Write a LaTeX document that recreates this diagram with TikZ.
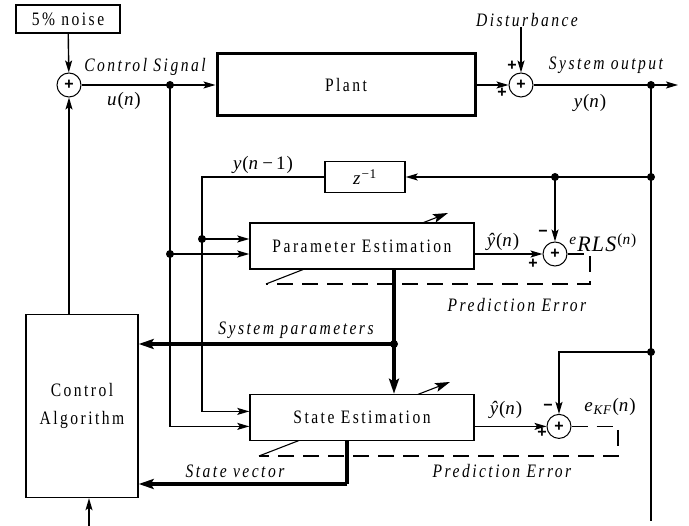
\documentclass[tikz,border=0pt]{standalone}
\usepackage{fontspec}
\setmainfont{Liberation Serif}[LetterSpace=13, FakeStretch=0.82]
\newfontfamily\sigfont{Liberation Serif}[LetterSpace=5]
\newfontfamily\signfont{Liberation Sans}
\usetikzlibrary{arrows.meta,positioning,calc}

\begin{document}
\begin{tikzpicture}[x=1pt, y=-1pt, line width=1.4pt,
  >={Stealth[length=12pt,width=7pt,inset=2.5pt]},
  font=\fontsize{19}{21}\selectfont,
  block/.style={draw, fill=white, inner sep=0pt, align=center},
  sumnode/.style={draw, circle, fill=white, inner sep=0pt, minimum size=24pt, line width=1pt, font=\signfont\fontsize{16}{16}\selectfont\bfseries},
  lab/.style={font=\fontsize{19}{21}\selectfont\itshape, inner sep=0pt},
  sig/.style={font=\sigfont\fontsize{19}{21}\selectfont, inner sep=0pt},
  sgn/.style={font=\signfont\fontsize{16}{16}\selectfont\bfseries, inner sep=0pt},
  dot/.style={circle, fill, inner sep=0pt, minimum size=8pt},
  thickline/.style={line width=4.5pt},
  bigtip/.style={-{Stealth[length=15pt,width=10pt,inset=3pt]}},
  adjust/.style={-{Stealth[length=15pt,width=9pt,inset=3pt]}, line width=1.1pt},
  fbline/.style={dashed, dash pattern=on 16pt off 9pt}
]
\useasboundingbox (0,0) rectangle (689,526);

% adjustment arrows behind the estimator blocks
\draw[adjust] (266,284) -- (448,213);
\draw[adjust] (259,456) -- (450,382);

\node[block, minimum width=104pt, minimum height=28pt] (noise) at (68,19) {5\% noise};
\node[sumnode] (sumu) at (69,85) {+};
\node[block, line width=3pt, minimum width=258pt, minimum height=62pt] (plant) at (346,85) {Plant};
\node[sumnode] (sumy) at (521,85) {+};
\node[lab] (dist) at (527,20) {Disturbance};
\node[block, minimum width=80pt, minimum height=31pt] (zinv) at (365,177) {\sigfont\textit{z}\textsuperscript{−1}};
\node[block, minimum width=224pt, minimum height=46pt] (param) at (362,246) {Parameter Estimation};
\node[block, minimum width=224pt, minimum height=46pt, below=124pt of param] (state) {State Estimation};
\node[block, minimum width=112pt, minimum height=183pt, font=\fontsize{19}{28}\selectfont] (ctrl) at (82,406) {Control\\Algorithm};

\coordinate (pin1) at ($(param.west)+(0,-7)$);
\coordinate (pin2) at ($(param.west)+(0,8)$);
\coordinate (pout) at ($(param.east)+(0,8)$);
\coordinate (sin1) at ($(state.west)+(0,-6)$);
\coordinate (sin2) at ($(state.west)+(0,9)$);
\coordinate (sout) at ($(state.east)+(0,9)$);
\coordinate (uj) at (170,85);
\coordinate (yj) at (651,85);
\coordinate (yout) at (678,85);
\coordinate (yend) at (651,521);
\coordinate (yz) at (651,177);
\coordinate (yr) at (555,177);
\coordinate (yk) at (651,352);
\coordinate (ylag) at (202,177);
\coordinate (dp) at (ylag |- pin1);
\coordinate (du) at (uj |- pin2);
\coordinate (rlsc) at (590,284);
\coordinate (kfc) at (618,456);
\coordinate (pj) at (394,344);
\coordinate (sv) at (347,484);
\coordinate (cin) at (89,526);

\node[sumnode] (sumrls) at (yr |- pout) {+};
\node[sumnode] (sumkf) at (559,0 |- sout) {+};

\draw[->] (noise) -- (sumu);
\draw[->] (sumu |- ctrl.north) -- (sumu);
\draw[->] (sumu) -- (plant);
\draw[->] (plant) -- (sumy);
\draw[->] (dist.south -| sumy) -- (sumy);
\draw[->] (sumy) -- (yout);
\draw (yj) -- (yend);
\draw[->] (yz) -- (zinv);
\draw[->] (yr) -- (sumrls);
\draw[->] (zinv.west) -- (ylag) |- (sin1);
\draw[->] (dp) -- (pin1);
\draw[->] (uj) |- (sin2);
\draw[->] (du) -- (pin2);
\draw[->] (pout) -- (sumrls);
\draw[->] (sout) -- (sumkf);
\draw[->] (yk) -| (sumkf);
\draw[fbline] (sumrls.east) -| (rlsc) -- (266,284);
\draw[fbline] (sumkf.east) -| (kfc) -- (259,456);
\draw[thickline, bigtip] (param.south -| pj) -- (state.north -| pj);
\draw[thickline, bigtip] (pj) -- (pj -| ctrl.east);
\draw[thickline] (state.south -| sv) -- (sv);
\draw[line width=3.5pt, bigtip] (sv) -- (sv -| ctrl.east);
\draw[->] (cin) -- (cin |- ctrl.south);

\foreach \p in {uj,yj,yz,yr,yk,dp,du,pj}
  \node[dot] at (\p) {};

\node[lab] (lcs) at (145,67) {Control Signal};
\node[sig] (lu) at (124,101) {\textit{u}(\textit{n})};
\node[lab] (lso) at (606,65) {System output};
\node[sig] (ly) at (590,103) {\textit{y}(\textit{n})};
\node[sig] (lylag) at (263,165) {\textit{y}(\textit{n}\,−\,1)};
\node[sgn] (py1) at (512,66) {+};
\node[sgn] (py2) at (502,93) {+};
\node[sgn] (mr) at (543,233) {−};
\node[sgn] (pr) at (533,264) {+};
\node[sig] (lyr) at (503,242) {\textit{ŷ}(\textit{n})};
\node[sig, font=\sigfont\fontsize{22}{24}\selectfont] (lerls) at (603,243) {\textsuperscript{\textit{e}}\textit{RLS}\textsuperscript{(\textit{n})}};
\node[lab] (lper) at (517,305) {Prediction Error};
\node[lab] (lsp) at (296,330) {System parameters};
\node[sgn] (mk) at (548,407) {−};
\node[sgn] (pk) at (542,433) {+};
\node[sig] (lyk) at (506,410) {\textit{ŷ}(\textit{n})};
\node[sig] (lekf) at (610,407) {\textit{e}\textsubscript{\textit{KF}}(\textit{n})};
\node[lab] (lpek) at (502,471) {Prediction Error};
\node[lab] (lsv) at (235,471) {State vector};
\end{tikzpicture}
\end{document}
